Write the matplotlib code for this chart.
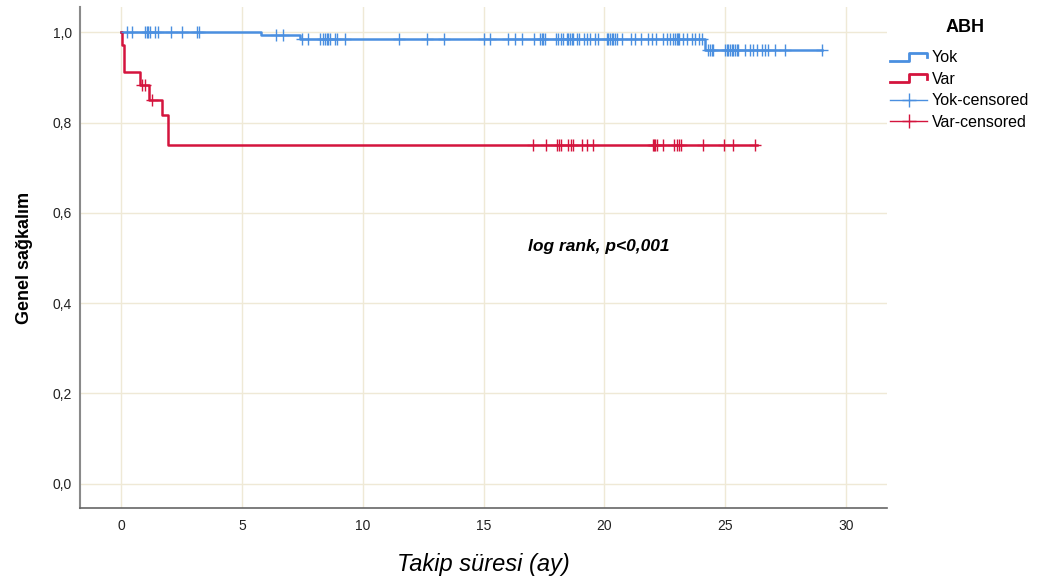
import numpy as np
import matplotlib
matplotlib.use("Agg")
import matplotlib.pyplot as plt
from matplotlib.lines import Line2D
from matplotlib.legend_handler import HandlerBase

plt.rcParams['font.family'] = ['Liberation Sans', 'DejaVu Sans']

# Kaplan-Meier step values
yok_times = [0.0, 5.8, 7.4, 24.16]
yok_surv = [1.0, 0.994, 0.985, 0.961]
yok_end = 29.0
yok_cens = [0.23, 0.44, 0.99, 1.06, 1.13, 1.20, 1.41, 1.54, 2.05, 2.51, 3.13, 3.24,
            6.41, 6.72, 7.47, 7.75, 8.23, 8.37, 8.44, 8.51, 8.58, 8.65, 8.85, 8.92,
            9.27, 11.50, 12.67, 13.36, 15.02, 15.27, 16.00, 16.30, 16.60, 17.10,
            17.34, 17.40, 17.47, 17.54, 17.98, 18.09, 18.20, 18.30, 18.44, 18.51,
            18.58, 18.65, 18.69, 18.85, 18.95, 19.16, 19.27, 19.40, 19.61, 19.75,
            20.09, 20.16, 20.23, 20.30, 20.37, 20.44, 20.54, 20.74, 21.09, 21.27,
            21.51, 21.82, 21.96, 22.13, 22.44, 22.58, 22.71, 22.85, 22.92, 22.99,
            23.06, 23.10, 23.27, 23.40, 23.61, 23.75, 23.91, 24.03, 24.30, 24.37,
            24.44, 24.51, 24.99, 25.06, 25.13, 25.20, 25.27, 25.34, 25.40, 25.47,
            25.54, 25.82, 26.02, 26.16, 26.30, 26.51, 26.64, 26.78, 27.06, 27.47, 28.99]

var_times = [0.0, 0.03, 0.1, 0.8, 1.17, 1.68, 1.96]
var_surv = [1.0, 0.972, 0.913, 0.883, 0.850, 0.817, 0.750]
var_end = 26.3
var_cens = [0.85, 1.0, 1.28, 17.03, 17.57, 18.05, 18.14, 18.22, 18.51, 18.60, 18.71,
            19.06, 19.27, 19.54, 22.0, 22.05, 22.11, 22.16, 22.44, 22.89, 22.99,
            23.09, 23.17, 24.07, 24.96, 25.31, 26.23]

x_ticks = [0, 5, 10, 15, 20, 25, 30]
y_ticks = [0.0, 0.2, 0.4, 0.6, 0.8, 1.0]
legend_labels = ['Yok', 'Var', 'Yok-censored', 'Var-censored']

blue = '#4a8fe0'
red = '#d4143d'


def level_at(times, surv, t):
    idx = np.searchsorted(times, t, side='right') - 1
    return np.array(surv)[idx]


class StepHandler(HandlerBase):
    def create_artists(self, legend, orig_handle, xdescent, ydescent,
                       width, height, fontsize, trans):
        w, h = width, height
        xs = np.array([0, 0.5 * w, 0.5 * w, w, w]) - xdescent
        ys = np.array([0.15 * h, 0.15 * h, 0.85 * h, 0.85 * h, 0.45 * h]) - ydescent
        ln = Line2D(xs, ys, color=orig_handle.get_color(), lw=2, transform=trans)
        return [ln]


fig = plt.figure(figsize=(10.46, 5.81), dpi=100)
ax = fig.add_axes([80 / 1046, 73 / 581, (886.7 - 80) / 1046, (508 - 7) / 581])

yx = list(yok_times) + [yok_end]
yy = list(yok_surv) + [yok_surv[-1]]
vx = list(var_times) + [var_end]
vy = list(var_surv) + [var_surv[-1]]

l1, = ax.step(yx, yy, where='post', color=blue, lw=1.8, zorder=3)
l2, = ax.step(vx, vy, where='post', color=red, lw=1.8, zorder=3)
ax.plot(yok_cens, level_at(yok_times, yok_surv, yok_cens), ls='none',
        marker='+', ms=8, mew=1.0, color=blue, zorder=4)
ax.plot(var_cens, level_at(var_times, var_surv, var_cens), ls='none',
        marker='+', ms=8, mew=1.0, color=red, zorder=4)

ax.set_xlim(-1.7, 31.68)
ax.set_ylim(-0.054, 1.056)
ax.set_xticks(x_ticks)
ax.set_yticks(y_ticks)
ax.set_yticklabels([f"{v:.1f}".replace('.', ',') for v in y_ticks])
ax.grid(True, color='#efe9d6', lw=1.0, zorder=0)
ax.set_axisbelow(True)
ax.tick_params(length=0, labelsize=10, colors='#222222')
ax.tick_params(axis='x', pad=8)
ax.tick_params(axis='y', pad=6)
for s in ['top', 'right']:
    ax.spines[s].set_visible(False)
ax.spines['left'].set_color('#8a8a8a')
ax.spines['left'].set_linewidth(1.5)
ax.spines['bottom'].set_color('#666666')
ax.spines['bottom'].set_linewidth(1.2)

ax.set_ylabel('Genel sağkalım', fontsize=13, fontweight='bold', labelpad=14)
ax.set_xlabel('Takip süresi (ay)', fontsize=17, style='italic', labelpad=14)

ax.text(19.78, 0.525, 'log rank, p<0,001', fontsize=12.5, fontweight='bold',
        style='italic', ha='center', va='center')

# legend proxies: censored entries show a line with a cross
h3 = Line2D([], [], color=blue, lw=1.0, marker='+', ms=10, mew=1.0)
h4 = Line2D([], [], color=red, lw=1.0, marker='+', ms=10, mew=1.0)

fig.text(965 / 1046, 1 - 27 / 581, 'ABH', fontsize=13, fontweight='bold',
         ha='center', va='center')
fig.legend([l1, l2, h3, h4], legend_labels,
           handler_map={l1: StepHandler(), l2: StepHandler()},
           loc='upper left', bbox_to_anchor=(884 / 1046, 1 - 44 / 581),
           frameon=False, fontsize=11.5,
           handlelength=2.3, handletextpad=0.3, labelspacing=0.4,
           borderaxespad=0)

fig.savefig('out.png', dpi=100)
